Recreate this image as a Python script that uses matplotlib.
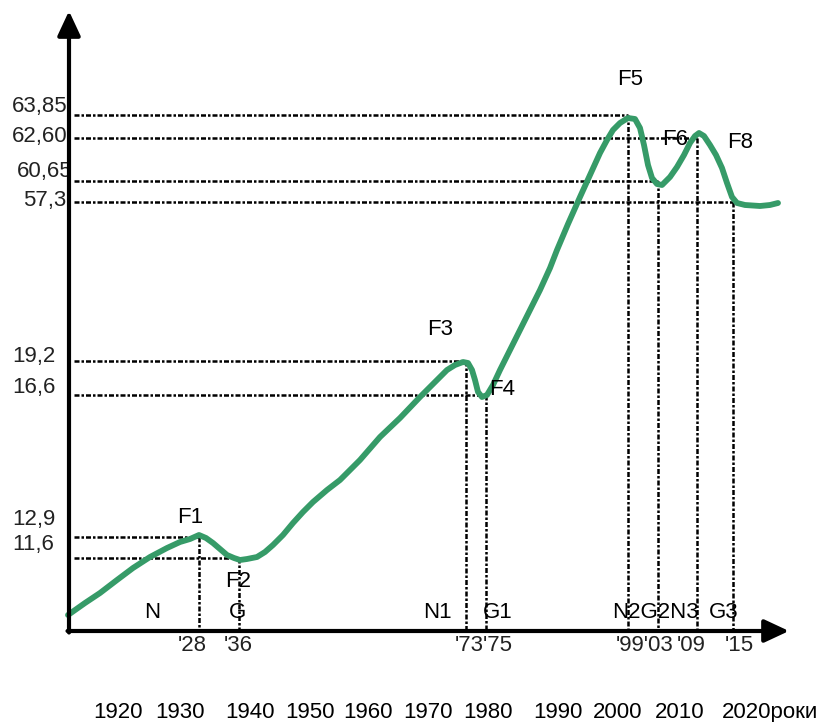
import matplotlib
matplotlib.use("Agg")
import matplotlib.pyplot as plt

plt.rcParams['font.family'] = ['Liberation Sans', 'DejaVu Sans']

# ---- data (schematic drawing units of the original chart) ----
curve_x = [68, 85, 100, 117, 133, 150, 167, 180, 190, 199, 206, 213, 220, 227, 234, 240,
           247, 257, 265, 273, 283, 293, 303, 313, 327, 340, 360, 380, 400, 420, 435, 447,
           455, 463, 468, 472, 475, 478, 482, 487, 493, 500, 510, 520, 530, 540, 550, 557,
           568, 580, 590, 600, 607, 613, 620, 628, 635, 640, 644, 648, 652, 657, 662, 670,
           677, 684, 690, 695, 699, 704, 710, 716, 722, 727, 732, 737, 745, 760, 770, 778]
curve_y = [615, 603, 593, 580, 568, 557, 548, 542, 539, 535, 538, 543, 549, 555, 558, 560,
           559, 557, 552, 545, 535, 523, 512, 502, 490, 480, 460, 437, 418, 397, 382, 370,
           365, 362, 363, 370, 380, 392, 397, 395, 385, 370, 350, 330, 310, 290, 268, 250,
           224, 197, 175, 153, 140, 130, 123, 118, 119, 128, 145, 165, 178, 184, 185, 177,
           167, 155, 143, 136, 133, 136, 145, 155, 168, 183, 197, 203, 205, 206, 205, 203]

level_labels = ['63,85', '62,60', '60,65', '57,3', '19,2', '16,6', '12,9', '11,6']
level_pos = [115, 138, 181, 202, 361, 395, 537, 558]
level_event_x = [628, 697, 658, 733, 466, 486, 199, 239]

# event year marks, grouped as they are printed under the axis
event_groups = [["'28"], ["'36"], ["'73", "'75"], ["'99", "'03"], ["'09"], ["'15"]]
event_group_x = [192, 238, 484, 645, 691, 739]

phase_labels = ['N', 'G', 'N1', 'G1', 'N2G2N3', 'G3']
phase_x = [152, 238, 437, 498, 655, 724]

point_labels = ['F1', 'F2', 'F3', 'F4', 'F5', 'F6', 'F8']
point_x = [190, 238, 440, 502, 630, 675, 740]
point_y = [523, 587, 335, 395, 85, 145, 148]

year_labels = ['1920', '1930', '1940', '1950', '1960', '1970', '1980', '1990', '2000', '2010']
year_x = [118, 180, 250, 310, 368, 428, 488, 558, 618, 680]
unit_label = '2020роки'

# ---- layout ----
W, H = 823, 722
AX_X, AX_Y = 69, 631
fig = plt.figure(figsize=(W / 100, H / 100), dpi=100)
ax = fig.add_axes([0, 0, 1, 1])
ax.set_xlim(0, W)
ax.set_ylim(H, 0)
ax.axis('off')

FS = 16
dot = dict(color='black', lw=1.8, linestyle=(0, (2, 0.8, 1, 0.8)))

# guide lines
for yv, xe in zip(level_pos, level_event_x):
    ax.plot([74, xe], [yv, yv], **dot, zorder=2)
    ax.plot([xe, xe], [yv, AX_Y], **dot, zorder=2)

# curve
ax.plot(curve_x, curve_y, color='#369b68', lw=4.2, solid_joinstyle='round',
        solid_capstyle='round', zorder=3)

# axes with arrows
arr = dict(arrowstyle='-|>,head_length=0.75,head_width=0.35', lw=3, color='black',
           shrinkA=0, shrinkB=0, mutation_scale=20)
ax.annotate('', xy=(AX_X, 11), xytext=(AX_X, AX_Y + 1.5), arrowprops=arr, zorder=4)
ax.annotate('', xy=(789, AX_Y), xytext=(AX_X - 1.5, AX_Y), arrowprops=arr, zorder=4)

# y labels
ylab_x = [12, 12, 17, 23, 12, 12, 12, 12]
ylab_base = [112, 142, 177, 206, 362, 393, 525, 550]
for t, x, b in zip(level_labels, ylab_x, ylab_base):
    ax.text(x, b, t, fontsize=FS, ha='left', va='baseline', color='#222222')

for g, x in zip(event_groups, event_group_x):
    ax.text(x, 651, ''.join(g), fontsize=FS, ha='center', va='baseline', color='#222222')

for t, x in zip(phase_labels, phase_x):
    ax.text(x, 618, t, fontsize=FS, ha='center', va='baseline', color='black')

for t, x, y in zip(point_labels, point_x, point_y):
    ax.text(x, y, t, fontsize=FS, ha='center', va='baseline', color='black')

for t, x in zip(year_labels, year_x):
    ax.text(x, 718, t, fontsize=FS, ha='center', va='baseline', color='black')
ax.text(722, 718, unit_label, fontsize=FS, ha='left', va='baseline', color='black')

fig.savefig('out.png', dpi=100, facecolor='white')
